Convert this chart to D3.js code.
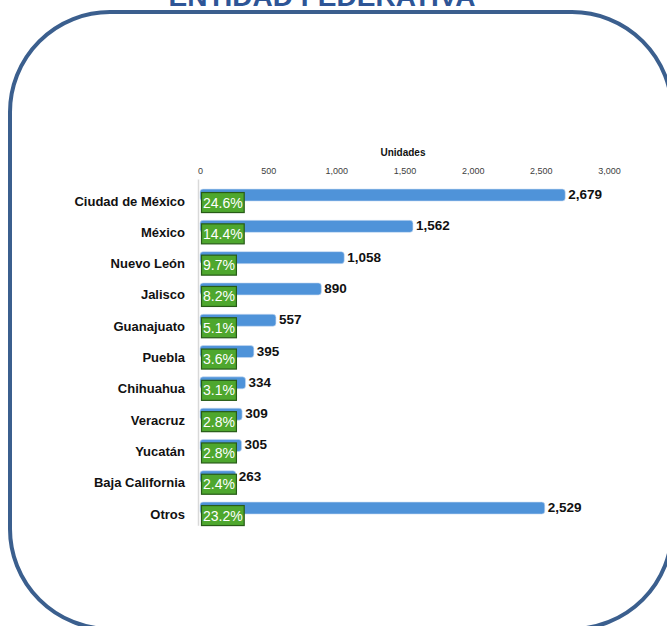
<!DOCTYPE html>
<html>
<head>
<meta charset="utf-8">
<script src="https://cdn.jsdelivr.net/npm/d3@7"></script>
<style>
  body { margin: 0; background: #fff; }
  svg { display: block; }
</style>
</head>
<body>
<div id="chart"></div>
<script>
var categories = ["Ciudad de México", "México", "Nuevo León", "Jalisco", "Guanajuato", "Puebla",
                  "Chihuahua", "Veracruz", "Yucatán", "Baja California", "Otros"],
    unidades = [2679, 1562, 1058, 890, 557, 395, 334, 309, 305, 263, 2529],
    porcentajes = [24.6, 14.4, 9.7, 8.2, 5.1, 3.6, 3.1, 2.8, 2.8, 2.4, 23.2],
    xTicks = [0, 500, 1000, 1500, 2000, 2500, 3000];

var W = 667, H = 626,
    fontSans = "'Liberation Sans', Arial, sans-serif";

var svg = d3.select("#chart").append("svg")
    .attr("width", W)
    .attr("height", H);

// title, mostly cut off by the top edge
svg.append("text")
    .attr("x", 322)
    .attr("y", 6)
    .attr("text-anchor", "middle")
    .attr("font-family", fontSans)
    .attr("font-weight", "bold")
    .attr("font-size", 28)
    .attr("fill", "#2e5596")
    .text("ENTIDAD FEDERATIVA");

// rounded frame
svg.append("rect")
    .attr("x", 10)
    .attr("y", 12)
    .attr("width", 662)
    .attr("height", 617)
    .attr("rx", 100)
    .attr("ry", 100)
    .attr("fill", "none")
    .attr("stroke", "#3b5f8e")
    .attr("stroke-width", 4);

var x = d3.scaleLinear()
    .domain([0, 3000])
    .range([200, 609]);

var y = d3.scaleBand()
    .domain(categories)
    .range([179.4, 523.7]);

var barH = 12;

var xAxis = svg.append("g")
    .attr("transform", "translate(0,174)")
    .call(d3.axisTop(x).tickValues(xTicks).tickSize(0).tickPadding(0).tickFormat(d3.format(",")));
xAxis.select(".domain").remove();
xAxis.selectAll("text")
    .attr("font-family", fontSans)
    .attr("font-size", 9)
    .attr("fill", "#404040");

svg.append("text")
    .attr("x", 403)
    .attr("y", 156)
    .attr("text-anchor", "middle")
    .attr("font-family", fontSans)
    .attr("font-weight", "bold")
    .attr("font-size", 10)
    .attr("fill", "#111")
    .text("Unidades");

// vertical axis line
svg.append("line")
    .attr("x1", x(0) - 1.5).attr("x2", x(0) - 1.5)
    .attr("y1", y.range()[0])
    .attr("y2", y.range()[1] + 2)
    .attr("stroke", "#d9d9d9")
    .attr("stroke-width", 1.5);

var rows = svg.selectAll(".row")
    .data(categories)
    .enter().append("g")
    .attr("class", "row")
    .attr("transform", function (d) { return "translate(0," + (y(d) + (y.bandwidth() - barH) / 2) + ")"; });

rows.append("rect")
    .attr("x", x(0))
    .attr("y", 0)
    .attr("width", function (d, i) { return x(unidades[i]) - x(0); })
    .attr("height", barH)
    .attr("rx", 3)
    .attr("fill", "#4f93d9")
    .attr("stroke", "#c9dcf2")
    .attr("stroke-width", 0.6);

rows.append("text")
    .attr("x", 185)
    .attr("y", 16.5)
    .attr("text-anchor", "end")
    .attr("font-family", fontSans)
    .attr("font-weight", "bold")
    .attr("font-size", 13)
    .attr("fill", "#111")
    .text(function (d) { return d; });

rows.append("text")
    .attr("x", function (d, i) { return x(unidades[i]) + 3; })
    .attr("y", 10)
    .attr("font-family", fontSans)
    .attr("font-weight", "bold")
    .attr("font-size", 13.5)
    .attr("fill", "#111")
    .text(function (d, i) { return d3.format(",")(unidades[i]); });

// percent boxes
rows.each(function (d, i) {
    var g = d3.select(this);
    var t = g.append("text")
        .attr("x", x(0) + 3)
        .attr("y", 18.5)
        .attr("font-family", fontSans)
        .attr("font-size", 14)
        .attr("fill", "#fff")
        .text(porcentajes[i].toFixed(1) + "%");
    var w = t.node().getComputedTextLength();
    g.insert("rect", function () { return t.node(); })
        .attr("x", x(0) + 1.5)
        .attr("y", 3.5)
        .attr("width", w + 3)
        .attr("height", 20)
        .attr("fill", "#4ea72e")
        .attr("stroke", "#275b17")
        .attr("stroke-width", 1.2);
});
</script>
</body>
</html>
